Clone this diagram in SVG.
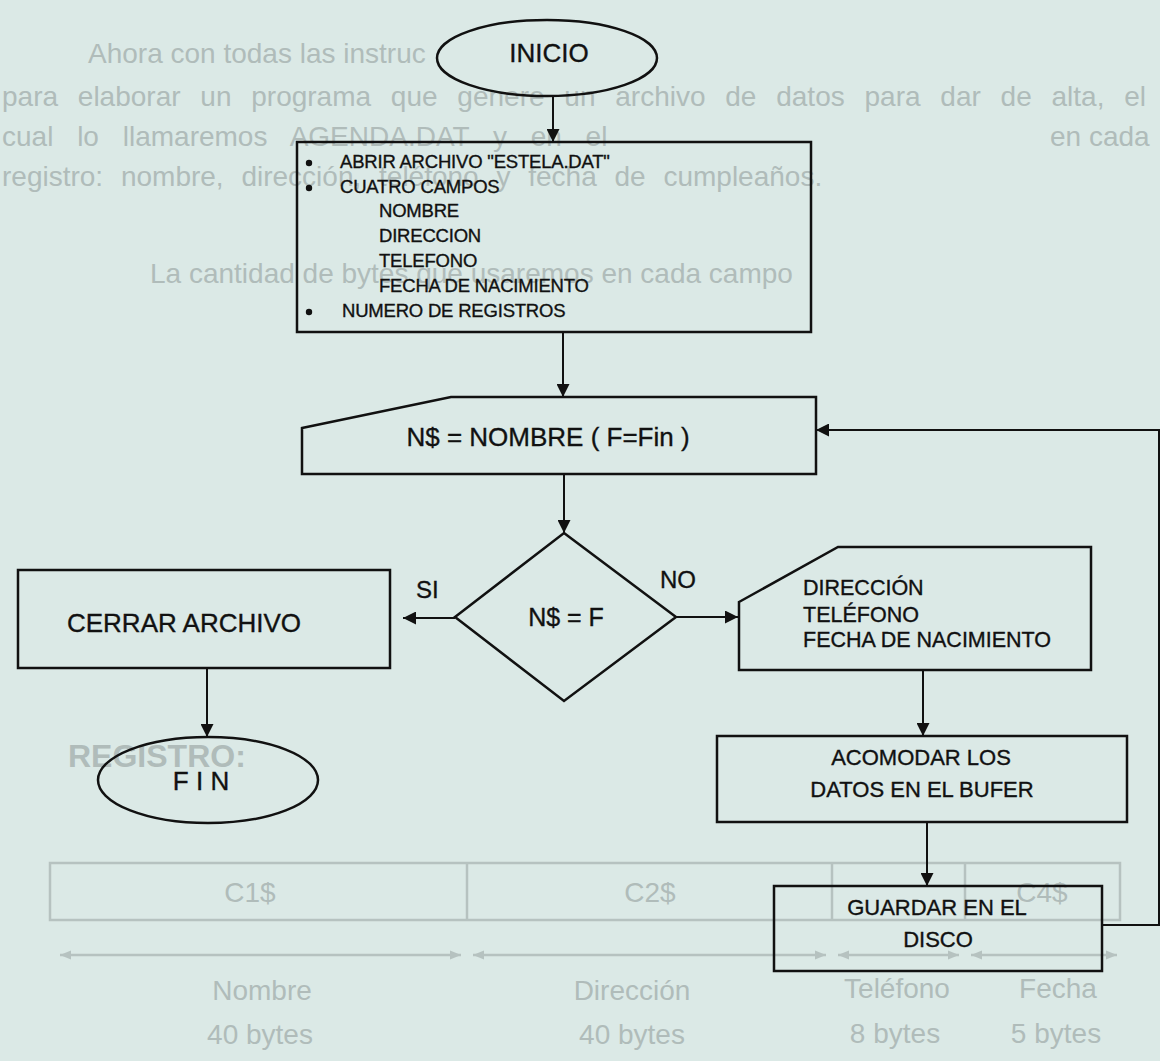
<svg xmlns="http://www.w3.org/2000/svg" width="1160" height="1061" viewBox="0 0 1160 1061">
<defs>
<style>
.bg{fill:#dbe9e6}
.shape{fill:none;stroke:#111;stroke-width:2.5}
.edge{fill:none;stroke:#111;stroke-width:2}
.t{font-family:"Liberation Sans",Arial,sans-serif;fill:#111;stroke:#111;stroke-width:0.35}
.g{font-family:"Liberation Sans",Arial,sans-serif;fill:#b0bcba;font-size:28px}
.gl{fill:none;stroke:#b6c2c0;stroke-width:2.5}
.m{text-anchor:middle}
.s18{font-size:18.5px;letter-spacing:-0.2px}
.s21{font-size:21.5px}
.s22{font-size:22px}
.s24{font-size:24px}
.s25{font-size:25px}
.s26{font-size:26px}
</style>
<marker id="ah" viewBox="0 0 12 12" refX="12" refY="6" markerWidth="13" markerHeight="13" markerUnits="userSpaceOnUse" orient="auto">
<path d="M0,0 L12,6 L0,12 Z" fill="#111"/>
</marker>
<marker id="gah" viewBox="0 0 12 12" refX="12" refY="6" markerWidth="11" markerHeight="11" markerUnits="userSpaceOnUse" orient="auto-start-reverse">
<path d="M0,1 L12,6 L0,11 Z" fill="#b6c2c0"/>
</marker>
</defs>
<rect class="bg" x="0" y="0" width="1160" height="1061"/>

<g id="background-print">
<text class="g" x="88" y="63">Ahora con todas las instruc</text>
<text class="g" x="2" y="106" style="word-spacing:12px">para elaborar un programa que genere un archivo de datos para dar de alta, el</text>
<text class="g" x="2" y="146" style="word-spacing:16px">cual lo llamaremos AGENDA.DAT y en el</text>
<text class="g" x="1050" y="146">en cada</text>
<text class="g" x="2" y="186" style="word-spacing:10px">registro: nombre, dirección, teléfono y fecha de cumpleaños.</text>
<text class="g" x="150" y="283">La cantidad de bytes que usaremos en cada campo</text>
<text class="g" x="68" y="767" style="font-size:32px;font-weight:bold">REGISTRO:</text>
<rect class="gl" x="50" y="863" width="1070" height="57"/>
<line class="gl" x1="467" y1="863" x2="467" y2="920"/>
<line class="gl" x1="832" y1="863" x2="832" y2="920"/>
<line class="gl" x1="965" y1="863" x2="965" y2="920"/>
<text class="g m" x="250" y="902">C1$</text>
<text class="g m" x="650" y="902">C2$</text>
<text class="g m" x="1042" y="902">C4$</text>
<line class="gl" x1="60" y1="955" x2="461" y2="955" marker-start="url(#gah)" marker-end="url(#gah)"/>
<line class="gl" x1="473" y1="955" x2="826" y2="955" marker-start="url(#gah)" marker-end="url(#gah)"/>
<line class="gl" x1="838" y1="955" x2="959" y2="955" marker-start="url(#gah)" marker-end="url(#gah)"/>
<line class="gl" x1="971" y1="955" x2="1117" y2="955" marker-start="url(#gah)" marker-end="url(#gah)"/>
<text class="g m" x="262" y="1000">Nombre</text>
<text class="g m" x="632" y="1000">Dirección</text>
<text class="g m" x="897" y="998">Teléfono</text>
<text class="g m" x="1058" y="998">Fecha</text>
<text class="g m" x="260" y="1044">40 bytes</text>
<text class="g m" x="632" y="1044">40 bytes</text>
<text class="g m" x="895" y="1043">8 bytes</text>
<text class="g m" x="1056" y="1043">5 bytes</text>
</g>

<g id="inicio">
<ellipse class="shape" cx="547" cy="58" rx="110" ry="38"/>
<text class="t m s26" x="549" y="62">INICIO</text>
</g>

<g id="abrir">
<rect class="shape" x="297" y="142" width="514" height="190"/>
<circle cx="309" cy="163" r="3.2" fill="#111"/>
<circle cx="309" cy="188" r="3.2" fill="#111"/>
<circle cx="309" cy="312" r="3.2" fill="#111"/>
<text class="t s18" x="340" y="168">ABRIR ARCHIVO "ESTELA.DAT"</text>
<text class="t s18" x="340" y="193">CUATRO CAMPOS</text>
<text class="t s18" x="379" y="217">NOMBRE</text>
<text class="t s18" x="379" y="242">DIRECCION</text>
<text class="t s18" x="379" y="267">TELEFONO</text>
<text class="t s18" x="379" y="292">FECHA DE NACIMIENTO</text>
<text class="t s18" x="342" y="317">NUMERO DE REGISTROS</text>
</g>

<g id="nombre">
<path class="shape" d="M302,428 L451,397 L816,397 L816,474 L302,474 Z"/>
<text class="t m s26" x="548" y="446">N$ = NOMBRE ( F=Fin )</text>
</g>

<g id="decision">
<path class="shape" d="M564,533 L676,617 L564,701 L455,617 Z"/>
<text class="t m s25" x="566" y="626">N$ = F</text>
</g>

<g id="cerrar">
<rect class="shape" x="18" y="570" width="372" height="98"/>
<text class="t m s26" x="184" y="632">CERRAR ARCHIVO</text>
</g>

<g id="fin">
<ellipse class="shape" cx="208" cy="780" rx="110" ry="43"/>
<text class="t m s26" x="201" y="790">F I N</text>
</g>

<g id="datos">
<path class="shape" d="M739,602 L838,547 L1091,547 L1091,670 L739,670 Z"/>
<text class="t s21" x="803" y="595">DIRECCIÓN</text>
<text class="t s21" x="803" y="622">TELÉFONO</text>
<text class="t s21" x="803" y="647">FECHA DE NACIMIENTO</text>
</g>

<g id="acomodar">
<rect class="shape" x="717" y="736" width="410" height="86"/>
<text class="t m s22" x="921" y="765">ACOMODAR LOS</text>
<text class="t m s22" x="922" y="797">DATOS EN EL BUFER</text>
</g>

<g id="guardar">
<rect class="shape" x="774" y="886" width="328" height="85"/>
<text class="t m s22" x="937" y="915">GUARDAR EN EL</text>
<text class="t m s22" x="938" y="947">DISCO</text>
</g>

<g id="connectors">
<line class="edge" x1="553" y1="96" x2="553" y2="142" marker-end="url(#ah)"/>
<line class="edge" x1="563" y1="332" x2="563" y2="397" marker-end="url(#ah)"/>
<line class="edge" x1="564" y1="474" x2="564" y2="533" marker-end="url(#ah)"/>
<line class="edge" x1="455" y1="618" x2="403" y2="618" marker-end="url(#ah)"/>
<line class="edge" x1="676" y1="617" x2="738" y2="617" marker-end="url(#ah)"/>
<line class="edge" x1="207" y1="668" x2="207" y2="737" marker-end="url(#ah)"/>
<line class="edge" x1="923" y1="670" x2="923" y2="736" marker-end="url(#ah)"/>
<line class="edge" x1="927" y1="822" x2="927" y2="886" marker-end="url(#ah)"/>
<polyline class="edge" points="1102,925 1159,925 1159,430 816,430" marker-end="url(#ah)"/>
<text class="t s24" x="416" y="598">SI</text>
<text class="t s24" x="660" y="588">NO</text>
</g>
</svg>
